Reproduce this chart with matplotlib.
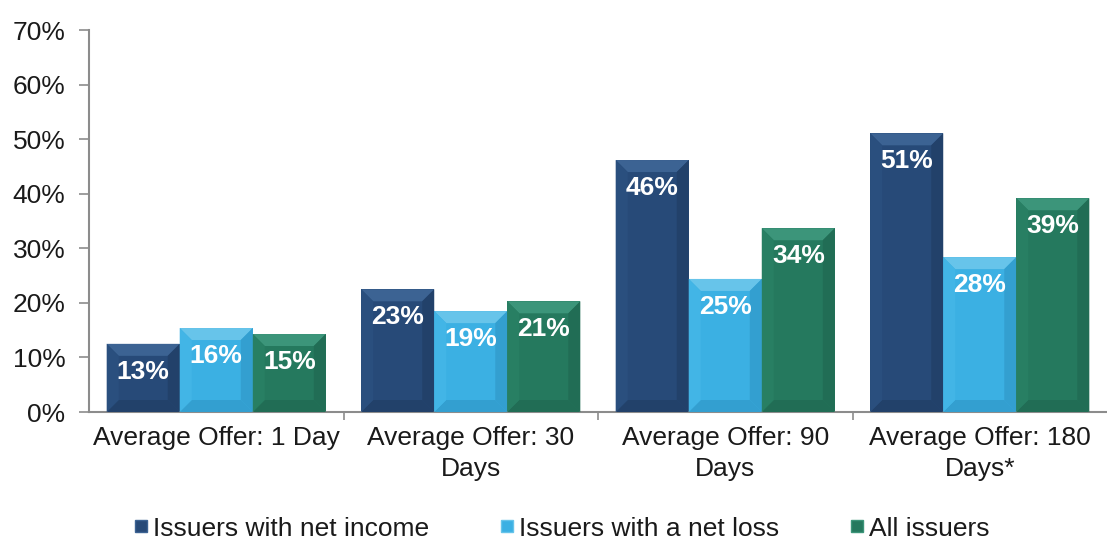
import matplotlib
matplotlib.use("Agg")
import matplotlib.pyplot as plt
from matplotlib.patches import Polygon
from matplotlib.lines import Line2D
import numpy as np

categories = ["Average Offer: 1 Day", "Average Offer: 30\nDays",
              "Average Offer: 90\nDays", "Average Offer: 180\nDays*"]
series_names = ["Issuers with net income", "Issuers with a net loss", "All issuers"]
net_income = [12.5, 22.5, 46.2, 51.1]
net_loss = [15.4, 18.5, 24.4, 28.4]
all_issuers = [14.3, 20.3, 33.7, 39.2]
labels_income = ["13%", "23%", "46%", "51%"]
labels_loss = ["16%", "19%", "25%", "28%"]
labels_all = ["15%", "21%", "34%", "39%"]
yticks = [0, 10, 20, 30, 40, 50, 60, 70]

face = ["#274a78", "#3bb0e3", "#25795e"]
light = ["#3c6393", "#67c4ea", "#3c957a"]
dark = ["#22416a", "#339fd0", "#216d55"]
side_l = ["#2a4f7e", "#42b5e6", "#287f63"]

plt.rcParams['font.family'] = ['Liberation Sans', 'DejaVu Sans']

fig = plt.figure(figsize=(11.07, 5.40), dpi=100)
ax = fig.add_axes([0.0804, 0.237, 0.9196, 0.707])
ax.set_xlim(0, 4)
ax.set_ylim(0, 70)

series = [net_income, net_loss, all_issuers]
labels = [labels_income, labels_loss, labels_all]
w = 0.287
x = np.arange(4) + 0.5

fig.canvas.draw()
inv = ax.transData.inverted()
p0 = inv.transform((0, 0))
p1 = inv.transform((12, 12))
bdx = p1[0] - p0[0]
bdy = p1[1] - p0[1]

for si, vals in enumerate(series):
    xs = x + (si - 1) * w
    bars = ax.bar(xs, vals, width=w, color=face[si], edgecolor="none", zorder=2)
    for b, lab in zip(bars, labels[si]):
        x0 = b.get_x(); x1 = x0 + b.get_width(); y1 = b.get_height(); y0 = 0
        ax.add_patch(Polygon([(x0, y1), (x1, y1), (x1 - bdx, y1 - bdy), (x0 + bdx, y1 - bdy)],
                             closed=True, facecolor=light[si], edgecolor="none", zorder=3))
        ax.add_patch(Polygon([(x0, y0), (x1, y0), (x1 - bdx, y0 + bdy), (x0 + bdx, y0 + bdy)],
                             closed=True, facecolor=dark[si], edgecolor="none", zorder=3))
        ax.add_patch(Polygon([(x1, y0), (x1, y1), (x1 - bdx, y1 - bdy), (x1 - bdx, y0 + bdy)],
                             closed=True, facecolor=dark[si], edgecolor="none", zorder=3))
        ax.add_patch(Polygon([(x0, y0), (x0, y1), (x0 + bdx, y1 - bdy), (x0 + bdx, y0 + bdy)],
                             closed=True, facecolor=side_l[si], edgecolor="none", zorder=3))
        ax.annotate(lab, xy=(b.get_x() + b.get_width() / 2, y1), xytext=(0, -28),
                    textcoords="offset pixels",
                    ha="center", va="center", color="white", fontsize=19,
                    fontweight="bold", zorder=5)

for s in ["top", "right"]:
    ax.spines[s].set_visible(False)
for s in ["left", "bottom"]:
    ax.spines[s].set_color("#8c8c8c")
    ax.spines[s].set_linewidth(1.5)

ax.set_yticks(yticks)
ax.set_yticklabels([f"{t}%" for t in yticks], fontsize=19, color="#1a1a1a")
ax.tick_params(axis="y", direction="out", length=7, color="#8c8c8c", width=1.2, pad=10)

ax.set_xticks([1, 2, 3])
ax.set_xticklabels([])
ax.tick_params(axis="x", direction="out", length=6, color="#8c8c8c", width=1.2)
for xi, cat in zip(x, categories):
    ax.text(xi, -2.6, cat, ha="center", va="top", fontsize=19, color="#1a1a1a",
            linespacing=1.38, transform=ax.transData)

handles = [Line2D([], [], marker="s", linestyle="none", markersize=8,
                  markerfacecolor=face[i], markeredgecolor=light[i]) for i in range(3)]
fig.legend(handles, series_names, loc="center", bbox_to_anchor=(0.505, 0.021), ncol=3,
           frameon=False, fontsize=19, handletextpad=0.0, columnspacing=2.5,
           handlelength=0.9, labelcolor="#1a1a1a")

fig.savefig("out.png", dpi=100)
